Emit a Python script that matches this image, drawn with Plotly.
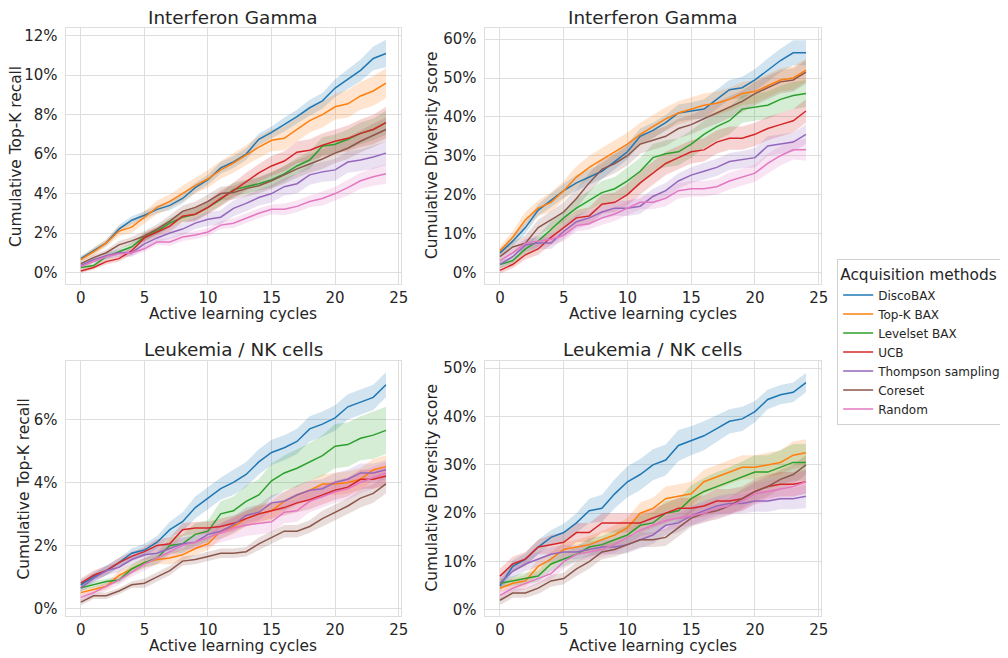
import plotly.graph_objects as go

cycles = list(range(25))
methods = ["DiscoBAX", "Top-K BAX", "Levelset BAX", "UCB", "Thompson sampling", "Coreset", "Random"]
colors = ["#1f77b4", "#ff7f0e", "#2ca02c", "#d62728", "#9467bd", "#8c564b", "#e377c2"]

panel_titles = ["Interferon Gamma", "Interferon Gamma", "Leukemia / NK cells", "Leukemia / NK cells"]
panel_ylabels = ["Cumulative Top-K recall", "Cumulative Diversity score",
                 "Cumulative Top-K recall", "Cumulative Diversity score"]
xlabel = "Active learning cycles"
ticks_ifng_recall = [0, 2, 4, 6, 8, 10, 12]
ticks_ifng_div = [0, 10, 20, 30, 40, 50, 60]
ticks_nk_recall = [0, 2, 4, 6]
ticks_nk_div = [0, 10, 20, 30, 40, 50]
x_ticks = [0, 5, 10, 15, 20, 25]

# ---------------- Interferon Gamma, Top-K recall (%) ----------------
ifng_rec_disco = [0.7, 1.1, 1.5, 2.2, 2.65, 2.9, 3.2, 3.4, 3.75, 4.3, 4.7, 5.3, 5.6, 6.0, 6.75, 7.1, 7.5, 7.9, 8.35, 8.7, 9.35, 9.8, 10.25, 10.85, 11.1]
ifng_rec_topk = [0.65, 1.05, 1.5, 2.1, 2.3, 2.8, 3.3, 3.6, 4.0, 4.4, 4.75, 5.2, 5.55, 5.95, 6.35, 6.7, 6.8, 7.25, 7.7, 8.0, 8.4, 8.55, 8.95, 9.2, 9.6]
ifng_rec_level = [0.25, 0.35, 0.8, 1.05, 1.3, 1.8, 2.1, 2.5, 2.8, 2.95, 3.3, 3.7, 4.2, 4.35, 4.5, 4.7, 5.0, 5.4, 5.7, 6.4, 6.5, 6.75, 7.05, 7.25, 7.6]
ifng_rec_ucb = [0.07, 0.25, 0.55, 0.7, 1.1, 1.75, 2.05, 2.35, 2.85, 2.95, 3.3, 3.75, 4.15, 4.6, 5.05, 5.4, 5.65, 6.1, 6.2, 6.45, 6.65, 6.8, 7.05, 7.25, 7.6]
ifng_rec_ts = [0.35, 0.65, 0.85, 1.0, 1.0, 1.45, 1.75, 2.0, 2.2, 2.5, 2.7, 2.8, 3.25, 3.5, 3.8, 4.0, 4.35, 4.5, 4.95, 5.1, 5.2, 5.6, 5.7, 5.85, 6.05]
ifng_rec_core = [0.45, 0.75, 1.0, 1.4, 1.6, 1.85, 2.2, 2.6, 3.1, 3.3, 3.6, 4.0, 4.05, 4.25, 4.4, 4.65, 4.95, 5.25, 5.5, 5.75, 6.05, 6.3, 6.65, 6.95, 7.25]
ifng_rec_rand = [0.3, 0.55, 0.8, 0.95, 1.0, 1.2, 1.55, 1.55, 1.8, 1.9, 2.05, 2.4, 2.5, 2.75, 3.0, 3.2, 3.2, 3.35, 3.6, 3.75, 4.0, 4.3, 4.65, 4.85, 5.0]
# band half-widths
ifng_rec_disco_err = [0.15, 0.15, 0.15, 0.2, 0.2, 0.2, 0.2, 0.25, 0.25, 0.25, 0.25, 0.3, 0.3, 0.3, 0.3, 0.3, 0.35, 0.35, 0.4, 0.4, 0.45, 0.5, 0.55, 0.6, 0.7]
ifng_rec_topk_err = [0.15, 0.2, 0.2, 0.25, 0.3, 0.3, 0.35, 0.35, 0.4, 0.4, 0.45, 0.45, 0.5, 0.5, 0.55, 0.55, 0.6, 0.6, 0.6, 0.65, 0.65, 0.7, 0.7, 0.75, 0.75]
ifng_rec_level_err = [0.1, 0.1, 0.15, 0.15, 0.2, 0.2, 0.2, 0.25, 0.25, 0.3, 0.3, 0.3, 0.35, 0.35, 0.35, 0.4, 0.4, 0.4, 0.45, 0.45, 0.5, 0.5, 0.55, 0.55, 0.6]
ifng_rec_ucb_err = [0.1, 0.1, 0.15, 0.15, 0.2, 0.25, 0.25, 0.3, 0.3, 0.35, 0.35, 0.4, 0.4, 0.45, 0.45, 0.5, 0.5, 0.55, 0.55, 0.6, 0.6, 0.65, 0.7, 0.75, 0.8]
ifng_rec_ts_err = [0.1, 0.15, 0.15, 0.2, 0.2, 0.25, 0.25, 0.3, 0.3, 0.3, 0.35, 0.35, 0.4, 0.4, 0.4, 0.45, 0.45, 0.5, 0.5, 0.5, 0.55, 0.55, 0.55, 0.6, 0.6]
ifng_rec_core_err = [0.1, 0.15, 0.15, 0.2, 0.2, 0.25, 0.25, 0.3, 0.3, 0.3, 0.35, 0.35, 0.35, 0.4, 0.4, 0.4, 0.45, 0.45, 0.45, 0.5, 0.5, 0.55, 0.55, 0.6, 0.6]
ifng_rec_rand_err = [0.1, 0.1, 0.1, 0.15, 0.15, 0.15, 0.15, 0.2, 0.2, 0.2, 0.2, 0.2, 0.25, 0.25, 0.25, 0.25, 0.3, 0.3, 0.3, 0.35, 0.35, 0.4, 0.4, 0.45, 0.5]

# ---------------- Interferon Gamma, Diversity score (%) ----------------
ifng_div_disco = [5, 8, 11.5, 16, 18.5, 21, 23, 24.5, 26, 28.5, 31, 35, 36.5, 38.5, 41, 41.5, 42, 44.5, 47, 47.5, 49.5, 52, 54.5, 56.5, 56.5]
ifng_div_topk = [5.5, 9, 13.5, 16.5, 18, 21, 24.5, 27, 29, 31, 33, 35.5, 37.5, 39.5, 41, 42, 43, 43.5, 44.5, 46, 46.5, 48, 49.5, 50, 52]
ifng_div_level = [2, 3, 6, 8, 11, 14, 16.5, 18.5, 20.5, 21.5, 23.5, 26, 29.5, 30.5, 31, 33, 35.5, 37.5, 39, 42, 42.5, 43, 44.5, 45.5, 46]
ifng_div_ucb = [0.5, 2, 4.5, 6, 9, 11.5, 14, 14.5, 17.5, 18, 20, 23, 25.5, 28, 29.5, 31, 31.5, 33.5, 34.5, 34.5, 35.5, 37, 38, 39, 41.5]
ifng_div_ts = [2, 4, 7, 7.5, 7.5, 10.5, 13, 14, 15.5, 16.5, 16.5, 17, 19.5, 21, 23.5, 25, 26, 27, 28.5, 29, 29.5, 32.5, 33, 33.5, 35.5]
ifng_div_core = [4, 6.5, 7.5, 11.5, 13.5, 15.5, 19, 23, 26.5, 28, 30, 33, 34, 35, 37, 38, 39.5, 41, 42.5, 44, 46, 47.5, 49, 49.5, 51.5]
ifng_div_rand = [3, 5, 7.5, 8, 8.5, 9.5, 12, 12.5, 14, 15, 16.5, 18, 18, 19, 21, 21.5, 21.5, 22, 23.5, 24.5, 25.5, 28, 30, 31.5, 31.5]
ifng_div_disco_err = [1, 1.2, 1.5, 1.5, 1.8, 1.8, 2, 2, 2, 2, 2, 2, 2, 2, 2.2, 2.2, 2.5, 2.5, 2.5, 2.8, 2.8, 3, 3, 3.2, 3.2]
ifng_div_topk_err = [1.2, 1.5, 2, 2, 2.5, 2.5, 2.8, 3, 3, 3, 3, 3, 3, 3, 3, 3, 3, 3, 3, 3, 3, 3, 3, 3, 3]
ifng_div_level_err = [1, 1, 1.5, 1.5, 2, 2, 2.5, 2.5, 3, 3, 3.5, 3.5, 3.5, 3.5, 3.5, 3.5, 3.5, 3.5, 3.5, 3.5, 3.5, 3.5, 3.5, 3.5, 3.5]
ifng_div_ucb_err = [0.8, 1, 1.2, 1.5, 1.8, 2, 2, 2.2, 2.5, 2.5, 2.8, 3, 3, 3, 3, 3, 3, 3, 3, 3, 3, 3, 3, 3, 3]
ifng_div_ts_err = [1, 1.2, 1.5, 1.5, 1.5, 1.8, 1.8, 1.8, 1.8, 2, 2, 2, 2, 2, 2, 2, 2.2, 2.2, 2.2, 2.2, 2.5, 2.5, 2.5, 2.5, 2.5]
ifng_div_core_err = [1.2, 1.5, 2, 2, 2.2, 2.5, 2.5, 2.5, 2.5, 2.5, 2.5, 2.5, 2.5, 2.5, 2.5, 2.5, 2.5, 2.8, 2.8, 2.8, 3, 3, 3, 3, 3]
ifng_div_rand_err = [1, 1.2, 1.2, 1.5, 1.5, 1.5, 1.5, 1.5, 1.8, 1.8, 1.8, 1.8, 1.8, 2, 2, 2, 2, 2, 2.2, 2.2, 2.2, 2.5, 2.5, 2.5, 2.8]

# ---------------- Leukemia / NK cells, Top-K recall (%) ----------------
nk_rec_disco = [0.75, 1.0, 1.2, 1.45, 1.75, 1.85, 2.1, 2.5, 2.75, 3.2, 3.5, 3.8, 4.0, 4.25, 4.65, 4.95, 5.1, 5.3, 5.7, 5.85, 6.05, 6.4, 6.55, 6.7, 7.1]
nk_rec_topk = [0.5, 0.6, 0.7, 1.05, 1.25, 1.45, 1.55, 1.6, 1.7, 1.9, 2.05, 2.45, 2.6, 2.85, 3.0, 3.1, 3.4, 3.6, 3.75, 3.95, 3.95, 4.0, 4.1, 4.4, 4.5]
nk_rec_level = [0.65, 0.75, 0.85, 0.9, 1.25, 1.45, 1.6, 2.0, 2.05, 2.35, 2.45, 3.0, 3.1, 3.4, 3.6, 4.05, 4.3, 4.45, 4.65, 4.85, 5.15, 5.2, 5.4, 5.5, 5.65]
nk_rec_ucb = [0.8, 1.05, 1.2, 1.45, 1.65, 1.8, 2.0, 2.05, 2.5, 2.55, 2.55, 2.6, 2.7, 2.85, 3.0, 3.1, 3.2, 3.35, 3.45, 3.6, 3.75, 3.85, 4.1, 4.1, 4.2]
nk_rec_ts = [0.65, 0.95, 1.2, 1.3, 1.55, 1.7, 1.75, 1.9, 2.05, 2.1, 2.35, 2.45, 2.65, 2.95, 3.05, 3.35, 3.4, 3.6, 3.75, 3.8, 4.0, 4.1, 4.3, 4.3, 4.4]
nk_rec_core = [0.2, 0.4, 0.4, 0.55, 0.75, 0.8, 1.0, 1.2, 1.5, 1.55, 1.65, 1.75, 1.75, 1.8, 2.05, 2.25, 2.45, 2.45, 2.6, 2.85, 3.05, 3.25, 3.5, 3.65, 3.95]
nk_rec_rand = [0.35, 0.5, 0.7, 0.9, 1.15, 1.4, 1.6, 1.8, 2.0, 2.1, 2.25, 2.4, 2.55, 2.65, 2.7, 2.75, 3.05, 3.1, 3.4, 3.55, 3.7, 3.8, 4.0, 4.15, 4.3]
nk_rec_disco_err = [0.15, 0.15, 0.15, 0.15, 0.15, 0.2, 0.2, 0.25, 0.3, 0.35, 0.35, 0.35, 0.4, 0.4, 0.4, 0.4, 0.4, 0.4, 0.4, 0.4, 0.4, 0.4, 0.4, 0.4, 0.4]
nk_rec_topk_err = [0.1, 0.1, 0.1, 0.15, 0.15, 0.15, 0.15, 0.2, 0.2, 0.2, 0.2, 0.25, 0.25, 0.25, 0.3, 0.3, 0.3, 0.3, 0.3, 0.3, 0.35, 0.35, 0.35, 0.35, 0.35]
nk_rec_level_err = [0.1, 0.1, 0.1, 0.1, 0.15, 0.15, 0.2, 0.25, 0.3, 0.35, 0.35, 0.4, 0.45, 0.5, 0.5, 0.55, 0.55, 0.6, 0.6, 0.65, 0.7, 0.7, 0.7, 0.75, 0.75]
nk_rec_ucb_err = [0.15, 0.15, 0.15, 0.15, 0.15, 0.15, 0.2, 0.2, 0.2, 0.2, 0.2, 0.25, 0.25, 0.25, 0.25, 0.25, 0.25, 0.3, 0.3, 0.3, 0.3, 0.3, 0.3, 0.3, 0.3]
nk_rec_ts_err = [0.15, 0.15, 0.15, 0.15, 0.15, 0.15, 0.2, 0.2, 0.2, 0.2, 0.2, 0.25, 0.25, 0.25, 0.25, 0.25, 0.3, 0.3, 0.3, 0.3, 0.3, 0.3, 0.3, 0.3, 0.3]
nk_rec_core_err = [0.1, 0.1, 0.1, 0.1, 0.1, 0.15, 0.15, 0.15, 0.15, 0.15, 0.15, 0.15, 0.15, 0.15, 0.2, 0.2, 0.2, 0.2, 0.2, 0.25, 0.25, 0.25, 0.3, 0.3, 0.3]
nk_rec_rand_err = [0.1, 0.1, 0.15, 0.15, 0.15, 0.2, 0.2, 0.2, 0.25, 0.25, 0.3, 0.3, 0.35, 0.35, 0.35, 0.35, 0.35, 0.35, 0.35, 0.35, 0.35, 0.35, 0.35, 0.35, 0.35]

# ---------------- Leukemia / NK cells, Diversity score (%) ----------------
nk_div_disco = [5, 9, 10.5, 13, 15, 16, 18, 20.5, 21, 24, 26.5, 28, 30, 31, 34, 35, 36, 37.5, 39, 39.5, 41, 43.5, 44.5, 45, 47]
nk_div_topk = [4.5, 5.5, 6, 9, 10.5, 12.5, 13, 13.5, 14.5, 15.5, 17, 20, 21, 23, 23.5, 24, 26.5, 27.5, 28.5, 29.5, 29.5, 30, 30.5, 32, 32.5]
nk_div_level = [5.5, 6, 6.5, 7, 9.5, 10.5, 11.5, 13, 13.5, 14.5, 15.5, 17.5, 18, 20, 20.5, 23, 24.5, 25.5, 26.5, 27.5, 28.5, 28.5, 29.5, 30.5, 30.5]
nk_div_ucb = [7, 9.5, 10.5, 13, 13.5, 14, 16, 16, 18, 18, 18, 18, 19, 20, 21, 21, 21.5, 22.5, 22.5, 23, 24.5, 25.5, 26, 26, 26.5]
nk_div_ts = [5.5, 8, 9.5, 10.5, 11.5, 12, 12, 12.5, 13, 13, 13.5, 14.5, 15.5, 17.5, 18, 19.5, 20.5, 21.5, 22, 22, 22.5, 22.5, 23, 23, 23.5]
nk_div_core = [2, 3.5, 3.5, 4.5, 6, 6.5, 8.5, 10, 12, 12.5, 13.5, 14.5, 14.5, 15, 17, 19, 20, 20.5, 21.5, 23, 24.5, 25.5, 27, 28, 30]
nk_div_rand = [3, 4.5, 5.5, 6.5, 7.5, 10, 11.5, 12, 12.5, 13.5, 15, 16.5, 17.5, 18.5, 19, 19.5, 20, 21, 21.5, 22.5, 24, 24.5, 25, 25.5, 26.5]
nk_div_disco_err = [1, 1.2, 1.2, 1.5, 1.5, 1.8, 2, 2.5, 2.8, 3, 3.2, 3.2, 3.2, 3.2, 3.2, 3, 3, 2.8, 2.5, 2.5, 2.2, 2, 2, 2, 2]
nk_div_topk_err = [1, 1, 1.2, 1.5, 1.5, 1.5, 1.5, 1.8, 1.8, 2, 2, 2.2, 2.2, 2.5, 2.5, 2.5, 2.5, 2.5, 2.5, 2.5, 2.5, 2.5, 2.5, 2.8, 2.8]
nk_div_level_err = [1, 1, 1.2, 1.2, 1.5, 1.5, 1.5, 1.8, 1.8, 2, 2, 2.2, 2.2, 2.5, 2.5, 2.8, 2.8, 3, 3, 3.2, 3.5, 3.5, 3.5, 3.8, 3.8]
nk_div_ucb_err = [1.5, 1.5, 1.5, 1.5, 2, 2, 2, 2, 2, 2, 2, 2, 2, 2, 2.2, 2.2, 2.2, 2.5, 2.5, 2.5, 2.5, 2.5, 2.5, 2.5, 2.5]
nk_div_ts_err = [1.5, 1.5, 1.5, 1.5, 1.5, 1.5, 1.5, 1.5, 1.5, 1.5, 1.8, 1.8, 1.8, 2, 2, 2, 2, 2, 2, 2, 2.2, 2.2, 2.2, 2.2, 2.5]
nk_div_core_err = [1, 1, 1, 1.2, 1.2, 1.2, 1.5, 1.5, 1.5, 1.5, 1.5, 1.5, 1.5, 1.8, 1.8, 1.8, 1.8, 1.8, 1.8, 2, 2, 2, 2, 2, 2]
nk_div_rand_err = [1, 1, 1.2, 1.2, 1.2, 1.5, 1.5, 1.5, 1.5, 1.8, 1.8, 1.8, 1.8, 2, 2, 2, 2, 2, 2, 2, 2.2, 2.2, 2.2, 2.2, 2.5]

panels = [
    ([ifng_rec_disco, ifng_rec_topk, ifng_rec_level, ifng_rec_ucb, ifng_rec_ts, ifng_rec_core, ifng_rec_rand],
     [ifng_rec_disco_err, ifng_rec_topk_err, ifng_rec_level_err, ifng_rec_ucb_err, ifng_rec_ts_err, ifng_rec_core_err, ifng_rec_rand_err]),
    ([ifng_div_disco, ifng_div_topk, ifng_div_level, ifng_div_ucb, ifng_div_ts, ifng_div_core, ifng_div_rand],
     [ifng_div_disco_err, ifng_div_topk_err, ifng_div_level_err, ifng_div_ucb_err, ifng_div_ts_err, ifng_div_core_err, ifng_div_rand_err]),
    ([nk_rec_disco, nk_rec_topk, nk_rec_level, nk_rec_ucb, nk_rec_ts, nk_rec_core, nk_rec_rand],
     [nk_rec_disco_err, nk_rec_topk_err, nk_rec_level_err, nk_rec_ucb_err, nk_rec_ts_err, nk_rec_core_err, nk_rec_rand_err]),
    ([nk_div_disco, nk_div_topk, nk_div_level, nk_div_ucb, nk_div_ts, nk_div_core, nk_div_rand],
     [nk_div_disco_err, nk_div_topk_err, nk_div_level_err, nk_div_ucb_err, nk_div_ts_err, nk_div_core_err, nk_div_rand_err]),
]
panel_yticks = [ticks_ifng_recall, ticks_ifng_div, ticks_nk_recall, ticks_nk_div]
panel_yranges = [[-0.6, 12.4], [-3.1, 62.9], [-0.25, 7.86], [-1.3, 51.5]]

# The page body adds an 8 px margin, so the figure is 8 px smaller than the
# window and every target position (window pixels) is shifted by OFF.
OFF = 8
W, H = 1000, 650
# axes boxes in window pixels: (left, right, top, bottom)
boxes = [(66, 404, 27, 285), (488, 827, 27, 285), (66, 404, 362, 619), (488, 827, 362, 619)]
ylabel_x = [16, 435, 24, 435]
title_y = [16.5, 16.5, 351, 351]
xlabel_y = [315, 315, 649, 649]

TXT = "#262626"
GRID = "#dedede"
FONT = "DejaVu Sans"


def px(x):
    return (x - OFF) / W


def py(y):
    return 1 - (y - OFF) / H


def hex_rgba(h, a):
    h = h.lstrip("#")
    return "rgba(%d,%d,%d,%s)" % (int(h[0:2], 16), int(h[2:4], 16), int(h[4:6], 16), a)


fig = go.Figure()
annotations = []
layout_axes = {}
for p, (means, errs) in enumerate(panels):
    suffix = "" if p == 0 else str(p + 1)
    xa, ya = "x" + suffix, "y" + suffix
    for m, (name, col, mean, err) in enumerate(zip(methods, colors, means, errs)):
        upper = [a + b for a, b in zip(mean, err)]
        lower = [a - b for a, b in zip(mean, err)]
        fig.add_trace(go.Scatter(
            x=cycles + cycles[::-1], y=upper + lower[::-1], fill="toself",
            fillcolor=hex_rgba(col, 0.2), line=dict(width=0), mode="lines",
            hoverinfo="skip", showlegend=False, xaxis=xa, yaxis=ya))
    for m, (name, col, mean) in enumerate(zip(methods, colors, means)):
        fig.add_trace(go.Scatter(
            x=cycles, y=mean, mode="lines", name=name,
            line=dict(color=col, width=1.5), showlegend=(p == 0),
            xaxis=xa, yaxis=ya))
    l, r, t, b = boxes[p]
    common = dict(showgrid=True, gridcolor=GRID, gridwidth=1, zeroline=False,
                  showline=True, mirror=True, linecolor=GRID, linewidth=1,
                  tickfont=dict(size=15, color=TXT, family=FONT))
    layout_axes["xaxis" + suffix] = dict(common, domain=[px(l), px(r)], anchor=ya,
                                          range=[-1.2, 25.2], tickvals=x_ticks,
                                          ticks="", ticklen=0)
    layout_axes["yaxis" + suffix] = dict(common, domain=[py(b), py(t)], anchor=xa,
                                          range=panel_yranges[p], tickvals=panel_yticks[p],
                                          ticktext=["%d%%" % v for v in panel_yticks[p]],
                                          ticks="outside", ticklen=4, tickcolor="rgba(0,0,0,0)")
    cx = (l + r) / 2
    annotations.append(dict(text=panel_titles[p], x=px(cx), y=py(title_y[p]),
                            xref="paper", yref="paper", showarrow=False,
                            xanchor="center", yanchor="middle",
                            font=dict(size=18.4, color=TXT, family=FONT)))
    annotations.append(dict(text=xlabel, x=px(cx), y=py(xlabel_y[p]),
                            xref="paper", yref="paper", showarrow=False,
                            xanchor="center", yanchor="middle",
                            font=dict(size=15.4, color=TXT, family=FONT)))
    annotations.append(dict(text=panel_ylabels[p], x=px(ylabel_x[p]), y=py((t + b) / 2),
                            xref="paper", yref="paper", showarrow=False, textangle=-90,
                            xanchor="center", yanchor="middle",
                            font=dict(size=15.4, color=TXT, family=FONT)))

fig.update_layout(
    width=W, height=H,
    margin=dict(l=0, r=0, t=0, b=0),
    paper_bgcolor="white", plot_bgcolor="white",
    font=dict(family=FONT, color=TXT),
    annotations=annotations,
    legend=dict(
        x=px(843), y=py(260), xanchor="left", yanchor="top",
        title=dict(text="Acquisition methods", font=dict(size=15.4, color=TXT, family=FONT)),
        font=dict(size=12, color=TXT, family=FONT),
        bgcolor="white", bordercolor="#d0d0d0", borderwidth=1,
        itemwidth=30, tracegroupgap=0,
    ),
    **layout_axes,
)

fig.write_html("out.html")
